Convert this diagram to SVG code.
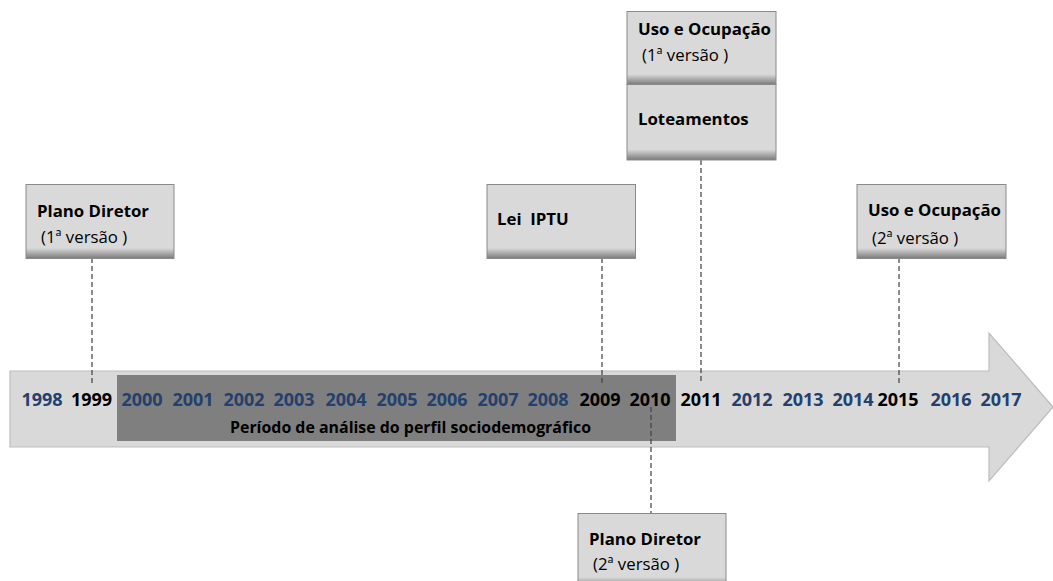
<svg xmlns="http://www.w3.org/2000/svg" width="1053" height="581" viewBox="0 0 1053 581">
<defs>
<linearGradient id="boxg" x1="0" y1="0" x2="0" y2="1">
<stop offset="0" stop-color="#d9d9d9"/>
<stop offset="0.86" stop-color="#d9d9d9"/>
<stop offset="1" stop-color="#7a7a7a"/>
</linearGradient>
<style>
.box{fill:url(#boxg);stroke:#8a8a8a;stroke-width:1}
.t{font-family:"Open Sans","DejaVu Sans",sans-serif;font-size:16.8px;fill:#000}
.b{font-weight:700}
.yr{font-family:"Open Sans","DejaVu Sans",sans-serif;font-size:18px;font-weight:700;text-anchor:middle;fill:#24406e}
.k{fill:#000}
.dash{stroke:#404040;stroke-width:1.2;stroke-dasharray:5 3;fill:none}
</style>
</defs>
<rect width="1053" height="581" fill="#ffffff"/>
<g id="timeline">
<path d="M10 371 H989 V333 L1053 407 L989 481 V447 H10 Z" fill="#d9d9d9" stroke="#bdbdbd" stroke-width="1.2"/>
<rect x="117" y="375" width="559" height="66" fill="#7f7f7f"/>
<text class="yr" x="42" y="406">1998</text>
<text class="yr k" x="91.5" y="406">1999</text>
<text class="yr" x="142" y="406">2000</text>
<text class="yr" x="193" y="406">2001</text>
<text class="yr" x="244" y="406">2002</text>
<text class="yr" x="294" y="406">2003</text>
<text class="yr" x="346" y="406">2004</text>
<text class="yr" x="397" y="406">2005</text>
<text class="yr" x="447" y="406">2006</text>
<text class="yr" x="498" y="406">2007</text>
<text class="yr" x="548" y="406">2008</text>
<text class="yr k" x="600" y="406">2009</text>
<text class="yr k" x="650" y="406">2010</text>
<text class="yr k" x="701" y="406">2011</text>
<text class="yr" x="752" y="406">2012</text>
<text class="yr" x="803" y="406">2013</text>
<text class="yr" x="853" y="406">2014</text>
<text class="yr k" x="898" y="406">2015</text>
<text class="yr" x="951" y="406">2016</text>
<text class="yr" x="1001" y="406">2017</text>
<text class="t b" x="230" y="433" font-size="15.5" textLength="361" lengthAdjust="spacingAndGlyphs">Período de análise do perfil sociodemográfico</text>
</g>
<g id="connectors">
<line class="dash" x1="92" y1="258" x2="92" y2="383"/>
<line class="dash" x1="602" y1="258" x2="602" y2="383"/>
<line class="dash" x1="701" y1="160" x2="701" y2="383"/>
<line class="dash" x1="899" y1="258" x2="899" y2="386"/>
<line class="dash" x1="651" y1="407" x2="651" y2="513"/>
</g>
<g id="plano-diretor-1">
<rect class="box" x="26" y="184.5" width="148" height="74"/>
<text class="t b" x="37" y="217">Plano Diretor</text>
<text class="t" x="41" y="243">(1ª versão )</text>
</g>
<g id="lei-iptu">
<rect class="box" x="487" y="184.5" width="148.5" height="74"/>
<text class="t b" x="497" y="225" xml:space="preserve">Lei  IPTU</text>
</g>
<g id="uso-ocupacao-1">
<rect class="box" x="627" y="11.5" width="149" height="73"/>
<text class="t b" x="638" y="35">Uso e Ocupação</text>
<text class="t" x="642" y="61">(1ª versão )</text>
</g>
<g id="loteamentos">
<rect class="box" x="627" y="84.5" width="149" height="75.5"/>
<text class="t b" x="638" y="125">Loteamentos</text>
</g>
<g id="uso-ocupacao-2">
<rect class="box" x="857" y="184.5" width="149" height="74"/>
<text class="t b" x="868" y="216">Uso e Ocupação</text>
<text class="t" x="872" y="244">(2ª versão )</text>
</g>
<g id="plano-diretor-2">
<rect class="box" x="578" y="513.5" width="148" height="74"/>
<text class="t b" x="589" y="545">Plano Diretor</text>
<text class="t" x="593" y="570">(2ª versão )</text>
</g>
</svg>
